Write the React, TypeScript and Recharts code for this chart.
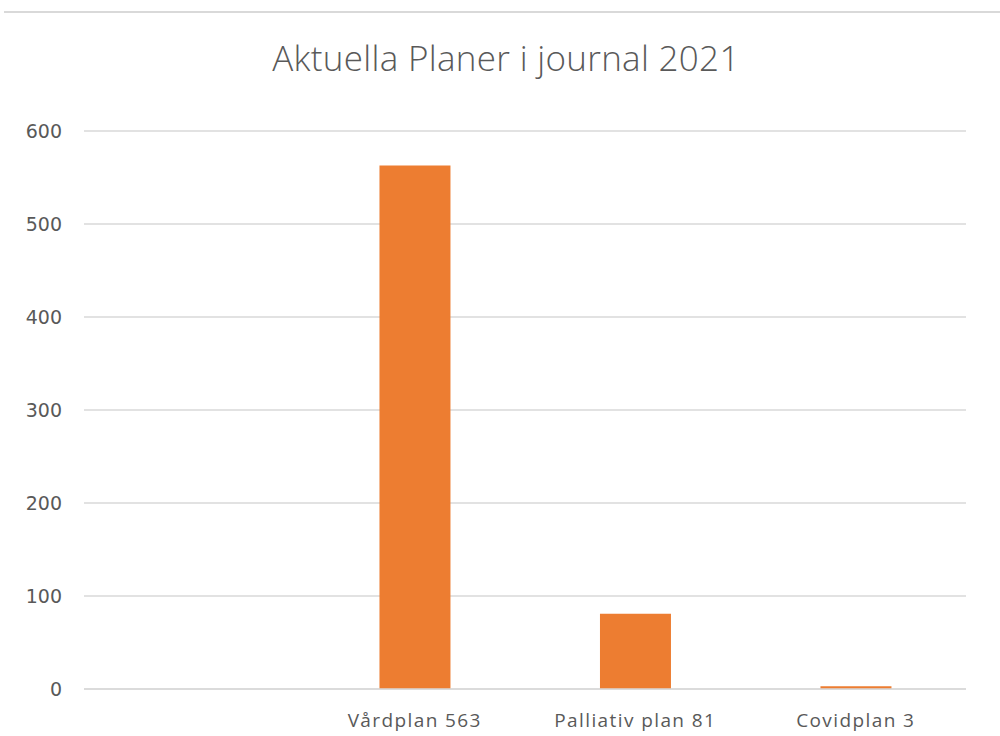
import React from 'react';
import { BarChart, Bar, XAxis, YAxis, CartesianGrid } from 'recharts';

const categories = ['', 'Vårdplan 563', 'Palliativ plan 81', 'Covidplan 3'];
const values: (number | null)[] = [null, 563, 81, 3];
const yTicks = [0, 100, 200, 300, 400, 500, 600];

const data = categories.map((name, i) => ({ name, value: values[i] }));

const textColor = '#595959';

const App: React.FC = () => {
	return (
		<div style={{ position: 'absolute', left: 0, top: 0, width: 1000, height: 736, background: '#fff' }}>
			<div style={{ position: 'absolute', left: 4, right: 0, top: 11, height: 2, background: '#d9d9d9' }} />
			<div
				style={{
					position: 'absolute',
					left: 0,
					width: 1012,
					top: 36,
					lineHeight: '44px',
					textAlign: 'center',
					fontFamily: '"Open Sans", sans-serif',
					fontWeight: 300,
					fontSize: 35,
					letterSpacing: 0.3,
					color: textColor,
				}}
			>
				Aktuella Planer i journal 2021
			</div>
			<BarChart
				width={1000}
				height={736}
				data={data}
				margin={{ top: 131, right: 34, left: 0, bottom: 0 }}
				barCategoryGap='34%'
			>
				<CartesianGrid vertical={false} stroke='#d9d9d9' strokeWidth={1.5} />
				<XAxis
					dataKey='name'
					height={47}
					axisLine={{ stroke: '#d9d9d9', strokeWidth: 1.5 }}
					tickLine={false}
					tickSize={0}
					tickMargin={25}
					interval={0}
					tick={{ fontSize: 19, fill: textColor, fontFamily: '"Open Sans", sans-serif', letterSpacing: 1.4 }}
				/>
				<YAxis
					width={84}
					domain={[0, 600]}
					ticks={yTicks}
					axisLine={false}
					tickLine={false}
					tickSize={0}
					tickMargin={22}
					tick={{ fontSize: 19, fill: textColor, fontFamily: '"DejaVu Sans", sans-serif' }}
				/>
				<Bar dataKey='value' fill='#ED7D31' isAnimationActive={false} />
			</BarChart>
		</div>
	);
};

export default App;
